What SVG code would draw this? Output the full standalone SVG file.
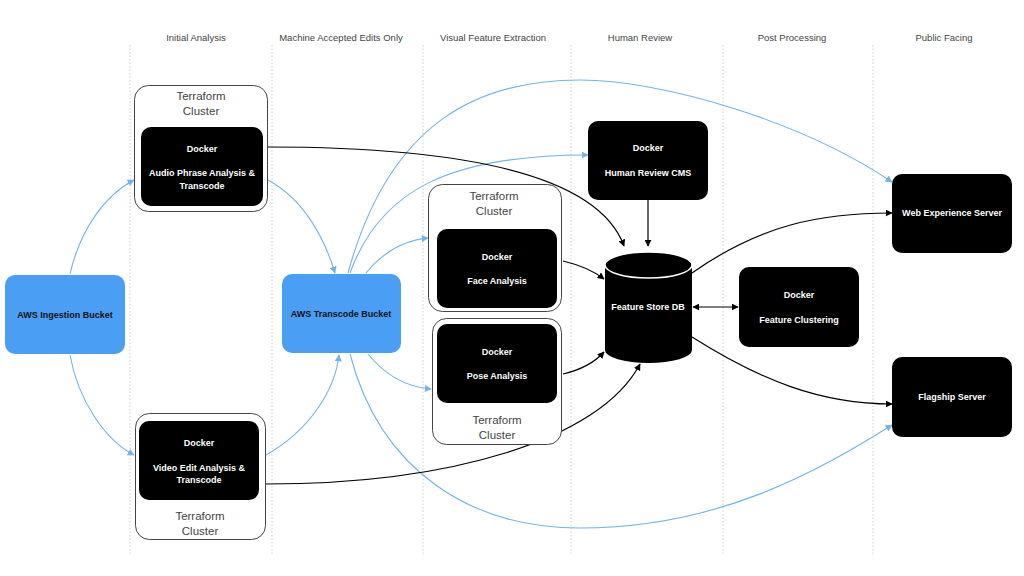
<svg xmlns="http://www.w3.org/2000/svg" width="1024" height="576" viewBox="0 0 1024 576">
<style>
.hdr{font-family:"Liberation Sans",Arial,sans-serif;font-size:9.5px;fill:#444;text-anchor:middle}
.div{stroke:#cfcfcf;stroke-width:1;stroke-dasharray:1.5 2}
.tf{font-family:"Liberation Sans",Arial,sans-serif;font-size:11.5px;fill:#444;text-anchor:middle}
.outer{fill:#fff;stroke:#444;stroke-width:1}
.blk{fill:#000}
.wt{font-family:"Liberation Sans",Arial,sans-serif;font-size:9px;font-weight:bold;fill:#fff;text-anchor:middle}
.bt{font-family:"Liberation Sans",Arial,sans-serif;font-size:9px;font-weight:bold;fill:#111;text-anchor:middle}
.aws{fill:#4a9ff5}
.bl{fill:none;stroke:#74b3e5;stroke-width:1.1;marker-end:url(#ab)}
.bk{fill:none;stroke:#000;stroke-width:1.2;marker-end:url(#ak)}
</style>
<defs>
<marker id="ab" viewBox="0 0 10 10" refX="9" refY="5" markerWidth="7" markerHeight="7" markerUnits="userSpaceOnUse" orient="auto"><path d="M0,0 L10,5 L0,10 z" fill="#74b3e5"/></marker>
<marker id="ak" viewBox="0 0 10 10" refX="9" refY="5" markerWidth="7" markerHeight="7" markerUnits="userSpaceOnUse" orient="auto"><path d="M0,0 L10,5 L0,10 z" fill="#000"/></marker>
<marker id="aks" viewBox="0 0 10 10" refX="1" refY="5" markerWidth="7" markerHeight="7" markerUnits="userSpaceOnUse" orient="auto"><path d="M10,0 L0,5 L10,10 z" fill="#000"/></marker>
</defs>
<rect width="1024" height="576" fill="#fff"/>
<g id="columns">
<line class="div" x1="130" y1="45" x2="130" y2="556"/>
<line class="div" x1="272" y1="45" x2="272" y2="556"/>
<line class="div" x1="423" y1="45" x2="423" y2="556"/>
<line class="div" x1="571" y1="45" x2="571" y2="556"/>
<line class="div" x1="723" y1="45" x2="723" y2="556"/>
<line class="div" x1="873" y1="45" x2="873" y2="556"/>
<text class="hdr" x="196" y="41">Initial Analysis</text>
<text class="hdr" x="341" y="41">Machine Accepted Edits Only</text>
<text class="hdr" x="493" y="41">Visual Feature Extraction</text>
<text class="hdr" x="640" y="41">Human Review</text>
<text class="hdr" x="792" y="41">Post Processing</text>
<text class="hdr" x="944" y="41">Public Facing</text>
</g>
<g id="connectors">
<path class="bl" d="M70,274 C80,230 105,195 134,180"/>
<path class="bl" d="M70,355 C78,400 105,440 134,455"/>
<path class="bl" d="M268,180 C305,200 325,240 335,273"/>
<path class="bl" d="M266,455 C310,430 335,390 339,355"/>
<path class="bl" d="M348,273 C390,120 480,80 580,80 C660,80 800,120 892,182"/>
<path class="bl" d="M350,273 C380,190 450,155 588,155"/>
<path class="bl" d="M366,273 C385,250 405,240 428,238"/>
<path class="bl" d="M368,354 C385,375 405,387 431,389"/>
<path class="bl" d="M350,354 C380,470 470,528 580,528 C720,528 820,470 892,425"/>
<path class="bk" d="M268,147 C480,147 600,180 624,246"/>
<path class="bk" d="M648,200 L648,246"/>
<path class="bk" d="M563,261 C580,265 595,272 604,279"/>
<path class="bk" d="M563,374 C580,370 595,362 604,352"/>
<path class="bk" d="M266,484 C450,484 600,440 640,364"/>
<path class="bk" d="M693,307 L738,307" marker-start="url(#aks)"/>
<path class="bk" d="M692,273 C760,225 820,213 892,213"/>
<path class="bk" d="M692,337 C760,380 820,404 892,404"/>
</g>
<g id="ingestion">
<rect class="aws" x="5" y="275" width="120" height="79" rx="10"/>
<text class="bt" x="65" y="318">AWS Ingestion Bucket</text>
</g>
<g id="transcode">
<rect class="aws" x="282" y="274" width="119" height="79" rx="10"/>
<text class="bt" x="341" y="317">AWS Transcode Bucket</text>
</g>
<g id="audio-cluster">
<rect class="outer" x="134.5" y="85.5" width="133" height="126" rx="14"/>
<text class="tf" x="201" y="100">Terraform</text>
<text class="tf" x="201" y="115">Cluster</text>
<rect class="blk" x="141" y="127" width="122" height="79" rx="10"/>
<text class="wt" x="202" y="152">Docker</text>
<text class="wt" x="202" y="176">Audio Phrase Analysis &amp;</text>
<text class="wt" x="202" y="189">Transcode</text>
</g>
<g id="video-cluster">
<rect class="outer" x="135.5" y="413.5" width="130" height="126" rx="14"/>
<rect class="blk" x="139" y="421" width="120" height="79" rx="10"/>
<text class="wt" x="199" y="446">Docker</text>
<text class="wt" x="199" y="471">Video Edit Analysis &amp;</text>
<text class="wt" x="199" y="483">Transcode</text>
<text class="tf" x="200" y="520">Terraform</text>
<text class="tf" x="200" y="535">Cluster</text>
</g>
<g id="face-cluster">
<rect class="outer" x="428.5" y="184.5" width="133" height="127" rx="14"/>
<text class="tf" x="494" y="200">Terraform</text>
<text class="tf" x="494" y="215">Cluster</text>
<rect class="blk" x="437" y="229" width="120" height="79" rx="10"/>
<text class="wt" x="497" y="260">Docker</text>
<text class="wt" x="497" y="284">Face Analysis</text>
</g>
<g id="pose-cluster">
<rect class="outer" x="432.5" y="318.5" width="129" height="126" rx="14"/>
<rect class="blk" x="437" y="324" width="120" height="79" rx="10"/>
<text class="wt" x="497" y="355">Docker</text>
<text class="wt" x="497" y="379">Pose Analysis</text>
<text class="tf" x="497" y="424">Terraform</text>
<text class="tf" x="497" y="439">Cluster</text>
</g>
<g id="human-review">
<rect class="blk" x="588" y="121" width="120" height="79" rx="10"/>
<text class="wt" x="648" y="151">Docker</text>
<text class="wt" x="648" y="176">Human Review CMS</text>
</g>
<g id="feature-store">
<path d="M605,265 L605,350 A43.5,13 0 0 0 692,350 L692,265 Z" fill="#000"/>
<ellipse cx="648.5" cy="265" rx="43.5" ry="13" fill="#000" stroke="#fff" stroke-width="1.5"/>
<text class="wt" x="648" y="310">Feature Store DB</text>
</g>
<g id="feature-clustering">
<rect class="blk" x="739" y="267" width="120" height="80" rx="10"/>
<text class="wt" x="799" y="298">Docker</text>
<text class="wt" x="799" y="323">Feature Clustering</text>
</g>
<g id="web-server">
<rect class="blk" x="892" y="174" width="120" height="79" rx="10"/>
<text class="wt" x="952" y="216">Web Experience Server</text>
</g>
<g id="flagship">
<rect class="blk" x="892" y="357" width="120" height="80" rx="10"/>
<text class="wt" x="952" y="400">Flagship Server</text>
</g>
</svg>
